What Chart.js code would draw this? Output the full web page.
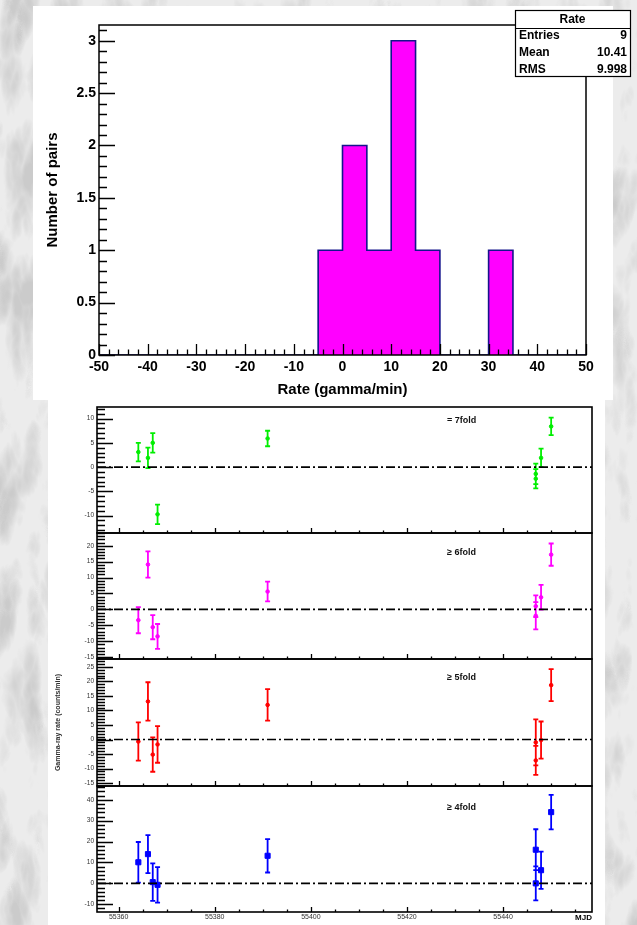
<!DOCTYPE html>
<html>
<head>
<meta charset="utf-8">
<title>Rate distribution and light curves</title>
<script src="https://cdn.jsdelivr.net/npm/chart.js@4.4.1/dist/chart.umd.min.js"></script>
<style>
  html, body { margin: 0; padding: 0; }
  body { width: 637px; height: 925px; position: relative; overflow: hidden; background: #e6e6e6; }
  #marble { position: absolute; left: 0; top: 0; }
  .pad { position: absolute; background: #fff; }
  canvas { position: absolute; left: 0; }
  .soft { filter: blur(0.45px); }
</style>
</head>
<body>
<svg id="marble" width="637" height="925" xmlns="http://www.w3.org/2000/svg">
  <filter id="veins" x="0" y="0" width="100%" height="100%">
    <feTurbulence type="turbulence" baseFrequency="0.022 0.009" numOctaves="4" seed="11"/>
    <feColorMatrix type="matrix" values="0 0 0 0 0.6  0 0 0 0 0.6  0 0 0 0 0.6  2.4 0 0 0 -0.55"/>
  </filter>
  <rect width="637" height="925" fill="#ececec"/>
  <rect width="637" height="925" filter="url(#veins)"/>
</svg>
<div class="pad" style="left:33px; top:6px; width:580px; height:394px;"></div>
<div class="pad" style="left:48px; top:400px; width:557px; height:525px;"></div>
<canvas id="hist" width="637" height="400" style="top:0"></canvas>
<canvas id="pane0" class="soft"></canvas>
<canvas id="pane1" class="soft"></canvas>
<canvas id="pane2" class="soft"></canvas>
<canvas id="pane3" class="soft"></canvas>
<script>
// ---------- rate histogram ----------
const rateBinLow  = [-50,-45,-40,-35,-30,-25,-20,-15,-10,-5,0,5,10,15,20,25,30,35,40,45];
const rateBinHigh = 50;
const pairCounts  = [0,0,0,0,0,0,0,0,0,1,2,1,3,1,0,0,1,0,0,0];
const rateTicks   = [-50,-40,-30,-20,-10,0,10,20,30,40,50];
const pairTicks   = [0,0.5,1,1.5,2,2.5,3];
const pairTickLabels = ['0','0.5','1','1.5','2','2.5','3'];
const statsTitle  = 'Rate';
const statsNames  = ['Entries','Mean','RMS'];
const statsValues = ['9','10.41','9.998'];

// ---------- light curves per multiplicity ----------
const mjd      = [55364.1,55366.1,55367.1,55368.1,55391.0,55446.8,55446.8,55447.9,55450.0];
const rate7    = [3.1, 1.9, 5.0, -9.75, 5.9, -1.4, -2.4, 1.9, 8.4];
const err7     = [1.9, 2.1, 2.0, 2.0, 1.6, 2.1, 2.0, 1.9, 1.8];
const rate6    = [-3.4, 14.1, -5.6, -8.5, 5.6, 1.0, -2.0, 3.8, 17.2];
const err6     = [4.1, 4.1, 3.8, 3.9, 3.1, 3.4, 4.3, 3.9, 3.5];
const rate5    = [-0.7, 13.1, -5.2, -1.7, 11.9, -1.0, -7.2, -0.2, 18.7];
const err5     = [6.6, 6.6, 5.9, 6.3, 5.4, 7.9, 5.0, 6.4, 5.5];
const rate4    = [10.1, 14.0, 0.6, -0.7, 13.2, 16.1, 0.0, 6.3, 34.1];
const err4     = [9.7, 9.1, 9.0, 8.5, 8.0, 9.8, 8.1, 8.9, 8.3];
const mjdTicks = [55360,55380,55400,55420,55440];
const paneLabels = ['= 7fold','\u2265 6fold','\u2265 5fold','\u2265 4fold'];
const yTicks7 = [-10,-5,0,5,10];
const yTicks6 = [-15,-10,-5,0,5,10,15,20];
const yTicks5 = [-15,-10,-5,0,5,10,15,20,25];
const yTicks4 = [-10,0,10,20,30,40];

Chart.defaults.font.family = "'Liberation Sans', Arial, sans-serif";
Chart.defaults.color = '#000';

// ROOT-style frame with inward major/minor ticks
const rootFrame = {
  id: 'rootFrame',
  afterDatasetsDraw(chart, args, o) {
    const { ctx, chartArea: a, scales: { x, y } } = chart;
    ctx.save();
    ctx.strokeStyle = '#000';
    ctx.lineWidth = o.tickWidth;
    ctx.beginPath();
    const nx = Math.floor((o.xLast - o.xFirst) / o.xMinor + 1e-6);
    for (let k = 0; k <= nx; k++) {
      const v = o.xFirst + k * o.xMinor;
      const r = (v - o.xMajorBase) / o.xMajor;
      const isMajor = Math.abs(r - Math.round(r)) < 1e-6;
      const px = Math.round(x.getPixelForValue(v)) + 0.5;
      const len = isMajor ? o.xMajorLen : o.xMinorLen;
      ctx.moveTo(px, a.bottom); ctx.lineTo(px, a.bottom - len);
    }
    const ny = Math.round((o.yLast - o.yFirst) / o.yMinor);
    for (let k = 0; k <= ny; k++) {
      const v = o.yFirst + k * o.yMinor;
      const r = (v - o.yMajorBase) / o.yMajor;
      const isMajor = Math.abs(r - Math.round(r)) < 1e-6;
      const py = Math.round(y.getPixelForValue(v)) + 0.5;
      const len = isMajor ? o.yMajorLen : o.yMinorLen;
      ctx.moveTo(a.left, py); ctx.lineTo(a.left + len, py);
    }
    ctx.stroke();
    ctx.lineWidth = o.frameWidth;
    ctx.strokeRect(a.left, a.top, a.right - a.left, a.bottom - a.top);
    ctx.restore();
  }
};

// statistics box in the upper right corner
const statsBox = {
  id: 'statsBox',
  afterDraw(chart) {
    const { ctx } = chart;
    const L = 515, R = 630, T = 10, H = 18, B = 76;
    ctx.save();
    ctx.fillStyle = '#fff';
    ctx.fillRect(L, T, R - L, B - T);
    ctx.strokeStyle = '#000';
    ctx.lineWidth = 1.2;
    ctx.strokeRect(L + 0.5, T + 0.5, R - L, B - T);
    ctx.beginPath(); ctx.moveTo(L, T + H + 0.5); ctx.lineTo(R, T + H + 0.5); ctx.stroke();
    ctx.fillStyle = '#000';
    ctx.font = "bold 12px 'Liberation Sans', Arial, sans-serif";
    ctx.textBaseline = 'middle';
    ctx.textAlign = 'center';
    ctx.fillText(statsTitle, (L + R) / 2, T + H / 2 + 1);
    statsNames.forEach((n, i) => {
      const yy = T + H + 8 + i * 17;
      ctx.textAlign = 'left'; ctx.fillText(n, L + 4, yy);
      ctx.textAlign = 'right'; ctx.fillText(statsValues[i], R - 3, yy);
    });
    ctx.restore();
  }
};

// histogram outline as a step line from bin edges
const stepPoints = rateBinLow.map((lo, i) => ({ x: lo, y: pairCounts[i] }));
stepPoints.push({ x: rateBinHigh, y: pairCounts[pairCounts.length - 1] });

new Chart(document.getElementById('hist'), {
  type: 'line',
  data: {
    datasets: [{
      data: stepPoints,
      stepped: 'before',
      borderColor: '#14148c',
      borderWidth: 1.6,
      backgroundColor: '#ff00ff',
      fill: 'origin',
      pointRadius: 0
    }]
  },
  options: {
    responsive: false, animation: false, events: [],
    layout: { padding: { top: 25, right: 51, bottom: 0, left: 0 } },
    plugins: {
      legend: { display: false }, tooltip: { enabled: false },
      rootFrame: {
        tickWidth: 1.3, frameWidth: 1.5,
        xFirst: -50, xLast: 50, xMinor: 2, xMajor: 10, xMajorBase: -50, xMajorLen: 11, xMinorLen: 5.5,
        yFirst: 0, yLast: 3.1, yMinor: 0.1, yMajor: 0.5, yMajorBase: 0, yMajorLen: 16, yMinorLen: 8
      }
    },
    scales: {
      x: {
        type: 'linear', min: -50, max: 50,
        afterBuildTicks: s => { s.ticks = rateTicks.map(v => ({ value: v })); },
        afterFit: s => { s.height = 45; },
        grid: { display: false, drawTicks: false }, border: { display: false },
        ticks: { autoSkip: false, maxRotation: 0, padding: 4, font: { size: 14, weight: 'bold' } },
        title: { display: true, text: 'Rate (gamma/min)', font: { size: 15, weight: 'bold' }, padding: { top: 0, bottom: 1 } }
      },
      y: {
        type: 'linear', min: 0, max: 3.15,
        afterBuildTicks: s => { s.ticks = pairTicks.map(v => ({ value: v })); },
        afterFit: s => { s.width = 99; },
        grid: { display: false, drawTicks: false }, border: { display: false },
        ticks: { autoSkip: false, padding: 3, font: { size: 14, weight: 'bold' },
                 callback: (v, i) => pairTickLabels[i] },
        title: { display: true, text: 'Number of pairs', font: { size: 15, weight: 'bold' }, padding: { top: 44, bottom: 0 } }
      }
    }
  },
  plugins: [rootFrame, statsBox]
});

// ---------- four stacked light-curve panes ----------
const paneEdges = [407, 533, 659, 786, 912];
const mjdMin = 55355.5, mjdMax = 55458.5;
const panes = [
  { vals: rate7, errs: err7, color: '#00ee00', min: -13.6, max: 12.4, ticks: yTicks7, major: 5, minor: 1, style: 'circle', r: 1.8, labelDy: 14 },
  { vals: rate6, errs: err6, color: '#ff00ff', min: -15.6, max: 24.0, ticks: yTicks6, major: 5, minor: 1, style: 'circle', r: 1.8, labelDy: 20 },
  { vals: rate5, errs: err5, color: '#ff0000', min: -16.0, max: 27.7, ticks: yTicks5, major: 5, minor: 1, style: 'circle', r: 1.8, labelDy: 19 },
  { vals: rate4, errs: err4, color: '#0000ff', min: -13.7, max: 46.6, ticks: yTicks4, major: 10, minor: 2, style: 'rect', r: 3.6, labelDy: 22 }
];

const errorBars = {
  id: 'errorBars',
  beforeDatasetsDraw(chart) {
    const { ctx, scales: { x, y } } = chart;
    const ds = chart.data.datasets[1];
    ctx.save();
    ctx.strokeStyle = ds.borderColor;
    ctx.lineWidth = 1.8;
    ctx.beginPath();
    ds.data.forEach((p, i) => {
      const px = x.getPixelForValue(p.x);
      const hi = y.getPixelForValue(p.y + ds.errors[i]);
      const lo = y.getPixelForValue(p.y - ds.errors[i]);
      ctx.moveTo(px, hi); ctx.lineTo(px, lo);
      ctx.moveTo(px - 2.5, hi); ctx.lineTo(px + 2.5, hi);
      ctx.moveTo(px - 2.5, lo); ctx.lineTo(px + 2.5, lo);
    });
    ctx.stroke();
    ctx.restore();
  }
};

const paneLabel = {
  id: 'paneLabel',
  afterDraw(chart, args, o) {
    const { ctx, chartArea: a } = chart;
    ctx.save();
    ctx.fillStyle = '#111';
    ctx.font = "bold 9px 'Liberation Sans', Arial, sans-serif";
    ctx.textBaseline = 'middle';
    ctx.fillText(o.text, 447, a.top + o.dy);
    ctx.restore();
  }
};

panes.forEach((p, i) => {
  const canvas = document.getElementById('pane' + i);
  const top = paneEdges[i], bottom = paneEdges[i + 1];
  const last = i === panes.length - 1;
  const cTop = top - 8;
  const cH = last ? 925 - cTop : (bottom - top) + 16;
  canvas.width = 637; canvas.height = cH; canvas.style.top = cTop + 'px';
  new Chart(canvas, {
    type: 'scatter',
    data: {
      datasets: [
        { type: 'line', data: [{ x: mjdMin, y: 0 }, { x: mjdMax, y: 0 }], borderColor: '#000',
          borderWidth: 1.6, borderDash: [9, 3, 2, 3], pointRadius: 0, fill: false },
        { data: mjd.map((m, k) => ({ x: m, y: p.vals[k] })), errors: p.errs,
          pointStyle: p.style, pointRadius: p.r, backgroundColor: p.color, borderColor: p.color, borderWidth: 1 }
      ]
    },
    options: {
      responsive: false, animation: false, events: [],
      layout: { padding: { top: 8, right: 45, bottom: last ? 0 : 8, left: 0 } },
      plugins: {
        legend: { display: false }, tooltip: { enabled: false },
        paneLabel: { text: paneLabels[i], dy: p.labelDy },
        rootFrame: {
          tickWidth: 1.3, frameWidth: 1.6,
          xFirst: 55360, xLast: mjdMax, xMinor: 5, xMajor: 20, xMajorBase: 55360, xMajorLen: 5, xMinorLen: 2.5,
          yFirst: Math.ceil(p.min / p.minor) * p.minor, yLast: Math.floor(p.max / p.minor) * p.minor,
          yMinor: p.minor, yMajor: p.major, yMajorBase: 0, yMajorLen: 16, yMinorLen: 8
        }
      },
      scales: {
        x: {
          type: 'linear', min: mjdMin, max: mjdMax, display: last,
          afterBuildTicks: s => { s.ticks = mjdTicks.map(v => ({ value: v })); },
          afterFit: s => { s.height = last ? 925 - bottom : 0; },
          grid: { display: false, drawTicks: false }, border: { display: false },
          ticks: { autoSkip: false, maxRotation: 0, padding: 1, color: '#333', font: { size: 7 },
                   callback: v => String(v) },
          title: { display: last, text: 'MJD', align: 'end', font: { size: 8, weight: 'bold' }, padding: { top: 0, bottom: 2 } }
        },
        y: {
          type: 'linear', min: p.min, max: p.max,
          afterBuildTicks: s => { s.ticks = p.ticks.map(v => ({ value: v })); },
          afterFit: s => { s.width = 97; },
          grid: { display: false, drawTicks: false }, border: { display: false },
          ticks: { autoSkip: false, padding: 3, color: '#333', font: { size: 6.5 }, callback: v => String(v) },
          title: { display: i === 2, text: 'Gamma-ray rate (counts/min)', color: '#333',
                   font: { size: 7, weight: 'bold' }, padding: { top: 54, bottom: 0 } }
        }
      }
    },
    plugins: [errorBars, rootFrame, paneLabel]
  });
});
</script>
</body>
</html>
